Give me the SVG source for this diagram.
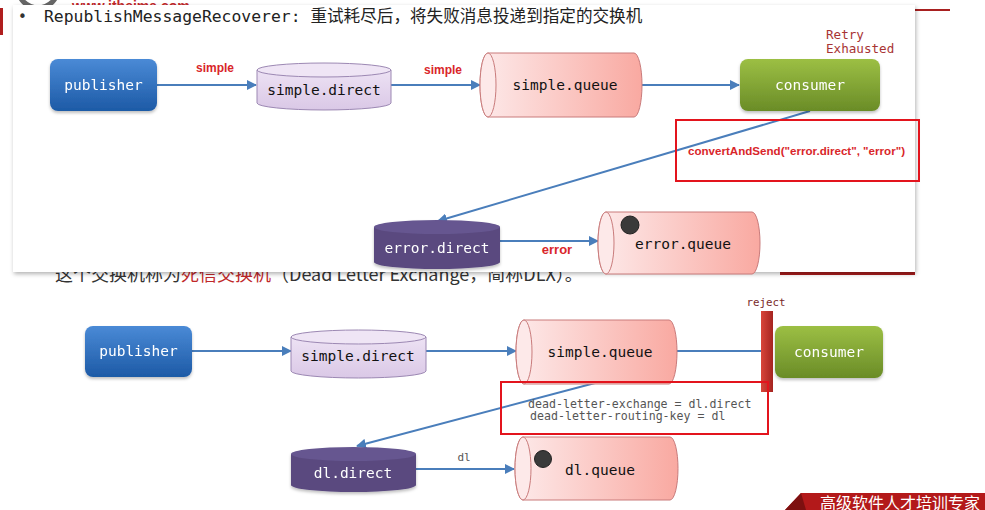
<svg xmlns="http://www.w3.org/2000/svg" width="985" height="510" viewBox="0 0 985 510">
<defs>
<style>
.mono{font-family:"DejaVu Sans Mono","Liberation Mono",monospace;}
.lbl{font-family:"DejaVu Sans Mono",monospace;font-size:14.5px;text-anchor:middle;}
.wt{fill:#ffffff;}
.dk{fill:#111111;}
.red{font-family:"Liberation Sans",Arial,sans-serif;font-weight:bold;fill:#d9262a;}
.conn{stroke:#4a7ebb;stroke-width:2;fill:none;}
.arr{marker-end:url(#ah);}
.box{fill:none;stroke:#e3141d;stroke-width:2;}
.q{fill:url(#pink);stroke:#c97b7b;stroke-width:1;}
.qe{fill:#fde9e9;stroke:#c97b7b;stroke-width:1;}
.ex{fill:url(#lpur);stroke:#9c88b3;stroke-width:1;}
.exe{fill:#efe5f5;stroke:#9c88b3;stroke-width:1;}
.dx{fill:#5a4a7f;}
.dxe{fill:#665690;}
.dot{fill:#3a3a3a;stroke:#222;stroke-width:1;}
</style>
<marker id="ah" viewBox="0 0 10 10" refX="9" refY="5" markerWidth="5" markerHeight="5" orient="auto" markerUnits="strokeWidth">
<path d="M0,0 L10,5 L0,10 z" fill="#4a7ebb"/>
</marker>
<linearGradient id="blue" x1="0" y1="0" x2="0" y2="1"><stop offset="0" stop-color="#4a8ad6"/><stop offset="1" stop-color="#1d5aa6"/></linearGradient>
<linearGradient id="green" x1="0" y1="0" x2="0" y2="1"><stop offset="0" stop-color="#9cbf44"/><stop offset="1" stop-color="#6a8c27"/></linearGradient>
<linearGradient id="pink" x1="0" y1="0" x2="1" y2="0"><stop offset="0" stop-color="#fdeaea"/><stop offset="1" stop-color="#f9a9a1"/></linearGradient>
<linearGradient id="lpur" x1="0" y1="0" x2="0" y2="1"><stop offset="0" stop-color="#ede2f4"/><stop offset="1" stop-color="#dac8e6"/></linearGradient>
<linearGradient id="rbar" x1="0" y1="0" x2="1" y2="0"><stop offset="0" stop-color="#d9463a"/><stop offset="1" stop-color="#a52420"/></linearGradient>
<filter id="sh" x="-5%" y="-5%" width="110%" height="115%"><feDropShadow dx="1" dy="2" stdDeviation="2" flood-color="#000" flood-opacity="0.3"/></filter>
<filter id="ns" x="-10%" y="-10%" width="120%" height="130%"><feDropShadow dx="0" dy="2" stdDeviation="1.5" flood-color="#000" flood-opacity="0.25"/></filter>
</defs>
<rect x="0" y="0" width="985" height="510" fill="#ffffff"/>

<!-- background slide elements -->
<g id="slide-bg">
<circle cx="38" cy="-12" r="20" fill="none" stroke="#666" stroke-width="5"/>
<text x="72" y="11" font-family="Liberation Sans,Arial,sans-serif" font-size="14" font-weight="bold" fill="#c0282a">www.itheima.com</text>
<rect x="0" y="8" width="3" height="27" fill="#b01e1e"/>
<rect x="915" y="9" width="35" height="2" fill="#a82020"/>
<rect x="780" y="266" width="135" height="9" fill="#a81c1c"/>
<text x="55" y="281" font-family="'Noto Sans CJK SC',sans-serif" font-size="18" fill="#333">这个交换机称为<tspan fill="#c0282a">死信交换机</tspan>（Dead Letter Exchange，简称DLX）。</text>
</g>

<!-- overlay panel -->
<g id="panel">
<rect x="13" y="5" width="902" height="267" fill="#ffffff" filter="url(#sh)"/>
<text x="18" y="22" font-family="'DejaVu Sans',sans-serif" font-size="15" fill="#333">•</text>
<text x="44" y="22" font-family="'DejaVu Sans Mono','Noto Sans CJK SC',monospace" font-size="16.4" fill="#222">RepublishMessageRecoverer: <tspan font-family="'Noto Sans CJK SC',sans-serif" font-size="16.6">重试耗尽后，将失败消息投递到指定的交换机</tspan></text>
</g>

<g id="connectors">
<line class="conn arr" x1="157" y1="85" x2="256" y2="85"/>
<line class="conn arr" x1="391" y1="85" x2="480" y2="85"/>
<line class="conn arr" x1="642" y1="85" x2="739" y2="85"/>
<line class="conn arr" x1="810" y1="111" x2="438" y2="221"/>
<line class="conn arr" x1="500" y1="241" x2="598" y2="241"/>
<line class="conn arr" x1="192" y1="351" x2="291" y2="351"/>
<line class="conn arr" x1="426" y1="351" x2="516" y2="351"/>
<line class="conn" x1="677" y1="351" x2="762" y2="351"/>
<line class="conn arr" x1="595" y1="383" x2="357" y2="446"/>
<line class="conn arr" x1="416" y1="469" x2="514" y2="469"/>
<text class="red" x="215" y="72" font-size="12" text-anchor="middle">simple</text>
<text class="red" x="443" y="74" font-size="12" text-anchor="middle">simple</text>
<text class="red" x="557" y="254" font-size="13" text-anchor="middle">error</text>
<text class="mono" x="464" y="461" font-size="11" fill="#555" text-anchor="middle">dl</text>
</g>

<!-- top flow -->
<g id="publisher1" filter="url(#ns)">
<rect x="50" y="59" width="107" height="52" rx="8" fill="url(#blue)"/>
<text class="lbl wt" x="103.5" y="90">publisher</text>
</g>
<g id="simple-direct1">
<path class="ex" d="M257,70 L257,103 A67,7 0 0 0 391,103 L391,70 Z"/>
<ellipse class="exe" cx="324" cy="70" rx="67" ry="7"/>
<text class="lbl dk" x="324" y="95">simple.direct</text>
</g>
<g id="simple-queue1">
<path class="q" d="M488,53 L634,53 A8,32 0 0 1 634,117 L488,117 A8,32 0 0 1 488,53 Z"/>
<ellipse class="qe" cx="488" cy="85" rx="8" ry="32"/>
<text class="lbl dk" x="565" y="90">simple.queue</text>
</g>
<g id="consumer1" filter="url(#ns)">
<rect x="740" y="59" width="140" height="52" rx="8" fill="url(#green)"/>
<text class="lbl wt" x="810" y="90">consumer</text>
</g>
<g id="retry-label">
<text class="mono" x="826" y="39" font-size="12.6" fill="#a83434">Retry</text>
<text class="mono" x="826" y="53" font-size="12.6" fill="#a83434">Exhausted</text>
</g>
<g id="convert-box">
<rect class="box" x="676" y="120" width="243" height="61"/>
<text class="red" x="688" y="155" font-size="11" textLength="217" lengthAdjust="spacingAndGlyphs">convertAndSend("error.direct", "error")</text>
</g>
<g id="error-direct" filter="url(#ns)">
<path class="dx" d="M374,227 L374,262 A63,7 0 0 0 500,262 L500,227 Z"/>
<ellipse class="dxe" cx="437" cy="227" rx="63" ry="7"/>
<text class="lbl wt" x="437" y="253">error.direct</text>
</g>
<g id="error-queue">
<path class="q" d="M606,212 L752,212 A8,31 0 0 1 752,274 L606,274 A8,31 0 0 1 606,212 Z"/>
<ellipse class="qe" cx="606" cy="243" rx="8" ry="31"/>
<circle class="dot" cx="630" cy="225" r="9"/>
<text class="lbl dk" x="683" y="249">error.queue</text>
</g>

<!-- bottom flow -->
<g id="publisher2" filter="url(#ns)">
<rect x="85" y="326" width="107" height="51" rx="8" fill="url(#blue)"/>
<text class="lbl wt" x="138.5" y="356">publisher</text>
</g>
<g id="simple-direct2">
<path class="ex" d="M291,337 L291,371 A67.5,7 0 0 0 426,371 L426,337 Z"/>
<ellipse class="exe" cx="358.5" cy="337" rx="67.5" ry="7"/>
<text class="lbl dk" x="358" y="361">simple.direct</text>
</g>
<g id="simple-queue2">
<path class="q" d="M524,320 L669,320 A8,32 0 0 1 669,384 L524,384 A8,32 0 0 1 524,320 Z"/>
<ellipse class="qe" cx="524" cy="352" rx="8" ry="32"/>
<text class="lbl dk" x="600" y="357">simple.queue</text>
</g>
<g id="reject">
<rect x="761" y="311" width="12" height="81" fill="url(#rbar)"/>
<text class="mono" x="766" y="306" font-size="10.8" fill="#7a2a2a" text-anchor="middle">reject</text>
</g>
<g id="consumer2" filter="url(#ns)">
<rect x="775" y="326" width="108" height="52" rx="8" fill="url(#green)"/>
<text class="lbl wt" x="829" y="357">consumer</text>
</g>
<g id="dlx-box">
<rect class="box" x="501" y="382" width="267" height="52"/>
<text class="mono" x="528" y="408" font-size="11.6" fill="#555">dead-letter-exchange = dl.direct</text>
<text class="mono" x="530" y="420" font-size="11.6" fill="#555">dead-letter-routing-key = dl</text>
</g>
<g id="dl-direct" filter="url(#ns)">
<path class="dx" d="M291,454 L291,485 A62.5,7 0 0 0 416,485 L416,454 Z"/>
<ellipse class="dxe" cx="353.5" cy="454" rx="62.5" ry="7"/>
<text class="lbl wt" x="353" y="478">dl.direct</text>
</g>
<g id="dl-queue">
<path class="q" d="M523,437 L670,437 A8,31.5 0 0 1 670,500 L523,500 A8,31.5 0 0 1 523,437 Z"/>
<ellipse class="qe" cx="523" cy="468.5" rx="8" ry="31.5"/>
<circle class="dot" cx="543" cy="459" r="8.5"/>
<text class="lbl dk" x="600" y="475">dl.queue</text>
</g>

<g id="banner">
<path d="M785,510 L801,493 L985,493 L985,510 Z" fill="#b3191a"/>
<path d="M785,510 L801,493 L806,510 Z" fill="#7d1010"/>
<text x="820" y="509" font-family="'Noto Sans CJK SC',sans-serif" font-size="16" fill="#ffffff">高级软件人才培训专家</text>
</g>
</svg>
